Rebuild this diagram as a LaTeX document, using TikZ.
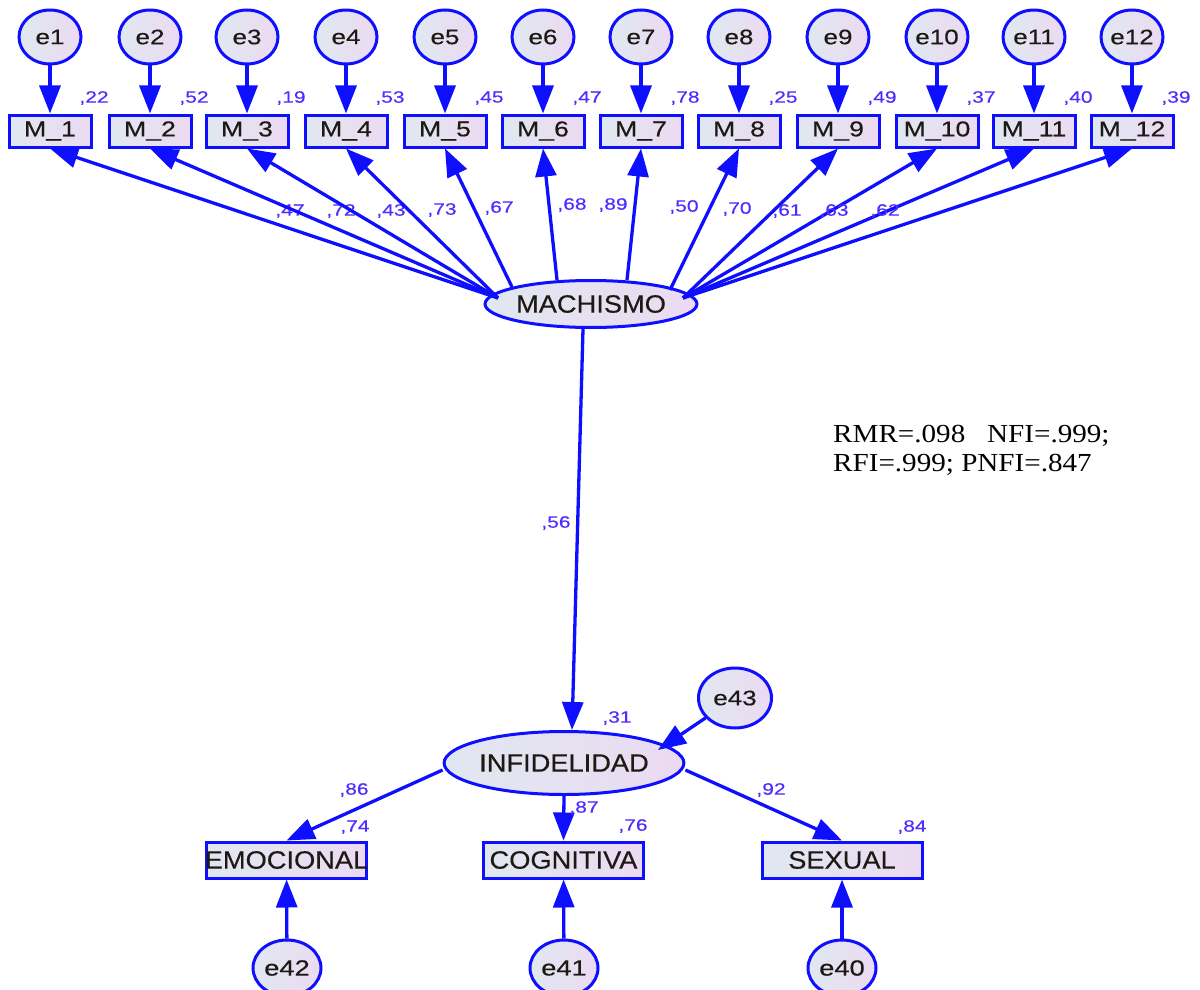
\documentclass[tikz,border=0pt]{standalone}
\usepackage{fontspec}
\setmainfont{Liberation Sans}
\newfontfamily\arialS[FakeStretch=1.27,FakeBold=0.3]{Liberation Sans}
\newfontfamily\arialM[FakeStretch=1.24,FakeBold=0.4]{Liberation Sans}
\newfontfamily\arialL[FakeStretch=1.09,FakeBold=0.4]{Liberation Sans}
\newfontfamily\timesx[FakeStretch=1.12]{Liberation Serif}
\usetikzlibrary{arrows.meta,shapes.geometric,calc}
\definecolor{amosline}{RGB}{15,15,255}
\definecolor{amoslab}{RGB}{80,45,255}
\definecolor{amostext}{RGB}{30,25,20}
\definecolor{fillL}{RGB}{224,232,240}
\definecolor{fillR}{RGB}{236,218,242}
\tikzset{
  evar/.style={ellipse, draw=amosline, line width=3pt, left color=fillL, right color=fillR,
    inner sep=0pt, minimum width=62pt, minimum height=54pt, text=amostext,
    font=\arialM\fontsize{21}{25}\selectfont},
  obs/.style={rectangle, draw=amosline, line width=3pt, left color=fillL, right color=fillR,
    inner sep=0pt, minimum width=82pt, minimum height=32pt, text=amostext,
    font=\arialM\fontsize{21.5}{25}\selectfont},
  obsbig/.style={obs, minimum width=160pt, minimum height=36pt,
    font=\arialL\fontsize{25}{29}\selectfont},
  lat/.style={ellipse, draw=amosline, line width=3pt, left color=fillL, right color=fillR,
    inner sep=0pt, text=amostext, font=\arialL\fontsize{25}{29}\selectfont},
  arr/.style={draw=amosline, line width=3.3pt, -{Triangle[length=28pt,width=21pt]}},
  lab/.style={text=amoslab, font=\arialS\fontsize{16.5}{20}\selectfont, inner sep=0pt},
  fitlab/.style={text=black, font=\timesx\fontsize{26}{30}\selectfont, inner sep=0pt}
}
\begin{document}
\begin{tikzpicture}[x=1pt,y=-1pt]
\useasboundingbox (0,0) rectangle (1200,990);

% latent MACHISMO
\node[lat, minimum width=194pt, minimum height=47pt] (mach) at (591,304) {MACHISMO};
\coordinate (sL) at ($(mach.center)+(-93,-6)$);
\coordinate (s5) at ($(mach.center)+(-79,-17)$);
\coordinate (s6) at ($(mach.center)+(-34,-24)$);
\coordinate (s7) at ($(mach.center)+(36,-24)$);
\coordinate (s8) at ($(mach.center)+(79,-14)$);
\coordinate (sR) at ($(mach.center)+(92,-6)$);

% indicators M_1..M_12 with errors
\foreach \i/\x/\r in {1/50/22, 2/150/52, 3/247/19, 4/346/53, 5/445/45, 6/543/47,
                      7/641/78, 8/739/25, 9/838/49, 10/937/37, 11/1034/40, 12/1132/39}{
  \node[evar] (e\i) at (\x,37) {e\i};
  \node[obs] (M\i) at (\x,131) {M\_\i};
  \draw[arr] (e\i) -- (M\i);
  \node[lab] (r\i) at (\x+44,98) {,\r};
}

% loadings
\foreach \i/\s/\l/\lx/\ly in {1/sL/47/290/211, 2/sL/72/341/211, 3/sL/43/391/211,
    4/sL/73/442/210, 5/s5/67/499/208, 6/s6/68/572/205, 7/s7/89/613/205,
    8/s8/50/684/207, 9/sR/70/737/209, 10/sR/61/787/211, 11/sR/63/834/211,
    12/sR/62/885/211}{
  \draw[arr] (\s) -- (M\i.south);
  \node[lab] (l\i) at (\lx,\ly) {,\l};
}

% INFIDELIDAD
\node[lat, minimum width=205pt, minimum height=63pt] (inf) at (564,763) {INFIDELIDAD};
\draw[arr] ($(mach.south)+(-8,0)$) -- ($(inf.north)+(8,0)$);
\node[lab] (l56) at (556,523) {,56};

\node[evar, minimum width=73pt, minimum height=60pt] (e43) at (735,698) {e43};
\coordinate (t43) at ($(inf.center)+(94,-13)$);
\draw[arr] (e43) -- (t43);
\node[lab] (r31) at (617,718) {,31};

% first-order indicators
\node[obsbig] (emo) at (286.5,860) {\makebox[0pt]{EMOCIONAL}};
\node[obsbig] (cog) at (563.5,860) {\makebox[0pt]{COGNITIVA}};
\node[obsbig] (sex) at (842,860) {\makebox[0pt]{SEXUAL}};

\draw[arr] ($(inf.west)+(0,7)$) -- (emo.north);
\draw[arr] (inf.south) -- (cog.north);
\draw[arr] ($(inf.east)+(0,7)$) -- (sex.north);

\node[lab] (l86) at (354,790) {,86};
\node[lab] (r74) at (355,827) {,74};
\node[lab] (l87) at (584,808) {,87};
\node[lab] (r76) at (633,826) {,76};
\node[lab] (l92) at (771,790) {,92};
\node[lab] (r84) at (912,827) {,84};

\node[evar, minimum width=68pt, minimum height=56pt, font=\arialM\fontsize{22}{26}\selectfont] (e42) at (287,968) {e42};
\node[evar, minimum width=68pt, minimum height=56pt, font=\arialM\fontsize{22}{26}\selectfont] (e41) at (564,968) {e41};
\node[evar, minimum width=68pt, minimum height=56pt, font=\arialM\fontsize{22}{26}\selectfont] (e40) at (842,968) {e40};
\draw[arr] (e42) -- (emo);
\draw[arr] (e41) -- (cog);
\draw[arr] (e40) -- (sex);

% fit indices
\node[fitlab, anchor=base west] (fit1) at (833,442) {RMR=.098\ \ \ NFI=.999;};
\node[fitlab, anchor=base west] (fit2) at (833,471) {RFI=.999; PNFI=.847};
\end{tikzpicture}
\end{document}
